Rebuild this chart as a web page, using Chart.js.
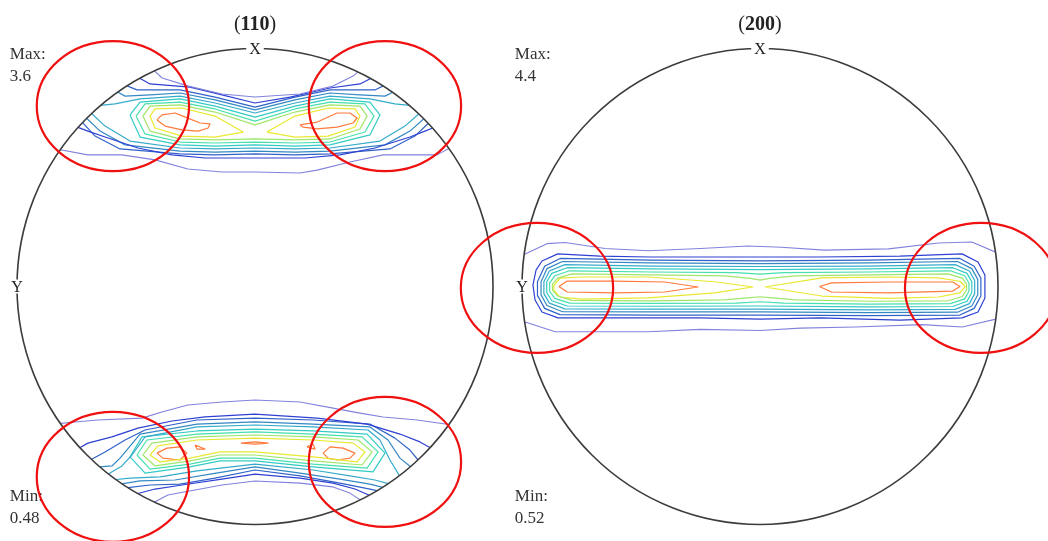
<!DOCTYPE html>
<html>
<head>
<meta charset="utf-8">
<script src="https://cdn.jsdelivr.net/npm/chart.js@4.4.1/dist/chart.umd.min.js"></script>
<style>
html, body { margin: 0; padding: 0; background: #fff; }
#wrap { position: relative; width: 1048px; height: 541px; overflow: hidden; }
#wrap canvas { position: absolute; top: 0; }
#pf110 { left: 0; }
#pf200 { left: 440px; }
</style>
</head>
<body>
<div id="wrap">
  <canvas id="pf110" width="510" height="541"></canvas>
  <canvas id="pf200" width="608" height="541"></canvas>
</div>
<script>
// contour levels, low -> high
const LEVEL_COLORS = ["#8282de", "#2e40d2", "#3062c8", "#3488c4", "#35abcb",
                      "#33cbc4", "#46dfae", "#a0e66a", "#e8e830", "#ff7a3c"];

const titles = ["110", "200"];
const maxVals = ["3.6", "4.4"];
const minVals = ["0.48", "0.52"];

// ---- (110) upper band ----
const a1Up = [[-0.425,0.908],[-0.39,0.876],[-0.28,0.842],[-0.139,0.809],[0,0.796],[0.189,0.809],[0.328,0.842],[0.412,0.884],[0.437,0.905]];
const a1Low = [[-0.835,0.578],[-0.702,0.553],[-0.559,0.553],[-0.42,0.532],[-0.282,0.494],[-0.139,0.481],[0,0.481],[0.189,0.477],[0.261,0.489],[0.399,0.523],[0.538,0.553],[0.765,0.553],[0.826,0.586]];
const a2Up = [[-0.49,0.878],[-0.441,0.851],[-0.273,0.838],[-0.139,0.805],[0,0.771],[0.147,0.796],[0.315,0.834],[0.441,0.851],[0.49,0.876]];
const a2Low = [[-0.752,0.672],[-0.702,0.653],[-0.63,0.628],[-0.492,0.582],[-0.349,0.553],[-0.21,0.54],[0,0.54],[0.21,0.54],[0.357,0.553],[0.504,0.582],[0.651,0.628],[0.714,0.653],[0.752,0.668]];
const a3Up = [[-0.545,0.846],[-0.496,0.826],[-0.315,0.826],[-0.168,0.796],[0,0.754],[0.168,0.796],[0.315,0.826],[0.504,0.826],[0.545,0.846]];
const a3Low = [[-0.73,0.695],[-0.672,0.632],[-0.567,0.578],[-0.315,0.557],[-0.168,0.553],[0,0.557],[0.168,0.553],[0.315,0.557],[0.567,0.578],[0.672,0.632],[0.733,0.69]];
const a4Up = [[-0.583,0.82],[-0.546,0.8],[-0.441,0.805],[-0.315,0.813],[-0.168,0.784],[0,0.742],[0.168,0.784],[0.315,0.813],[0.441,0.805],[0.546,0.8],[0.583,0.818]];
const a4Low = [[-0.713,0.712],[-0.651,0.653],[-0.546,0.595],[-0.315,0.569],[-0.168,0.565],[0,0.569],[0.168,0.565],[0.315,0.569],[0.546,0.595],[0.651,0.653],[0.713,0.708]];
const a5Up = [[-0.66,0.76],[-0.588,0.767],[-0.483,0.788],[-0.315,0.8],[-0.168,0.771],[0,0.729],[0.168,0.771],[0.315,0.8],[0.483,0.788],[0.588,0.767],[0.66,0.76]];
const a5Low = [[-0.69,0.73],[-0.63,0.674],[-0.525,0.611],[-0.315,0.582],[-0.168,0.578],[0,0.582],[0.168,0.578],[0.315,0.582],[0.525,0.611],[0.63,0.674],[0.69,0.727]];
const a6 = [[-0.525,0.721],[-0.483,0.775],[-0.315,0.788],[-0.168,0.758],[0,0.712],[0.168,0.758],[0.315,0.788],[0.483,0.775],[0.525,0.721],[0.483,0.637],[0.315,0.595],[0.168,0.59],[0,0.595],[-0.168,0.59],[-0.315,0.595],[-0.483,0.628]];
const a7 = [[-0.5,0.716],[-0.462,0.767],[-0.315,0.775],[-0.168,0.746],[0,0.695],[0.168,0.746],[0.315,0.775],[0.462,0.767],[0.5,0.716],[0.462,0.649],[0.315,0.607],[0.168,0.603],[0,0.607],[-0.168,0.603],[-0.315,0.607],[-0.462,0.641]];
const a8 = [[-0.471,0.716],[-0.441,0.758],[-0.315,0.763],[-0.168,0.733],[0,0.679],[0.168,0.733],[0.315,0.763],[0.441,0.758],[0.471,0.716],[0.441,0.662],[0.315,0.62],[0.168,0.616],[0,0.62],[-0.168,0.616],[-0.315,0.62],[-0.441,0.653]];
const a9L = [[-0.441,0.716],[-0.42,0.746],[-0.307,0.75],[-0.168,0.716],[-0.05,0.649],[-0.168,0.628],[-0.307,0.632],[-0.42,0.666]];
const a9R = [[0.05,0.649],[0.168,0.716],[0.307,0.75],[0.42,0.746],[0.441,0.716],[0.42,0.67],[0.307,0.632],[0.168,0.628]];
const a10L = [[-0.412,0.7],[-0.391,0.721],[-0.336,0.729],[-0.303,0.716],[-0.231,0.687],[-0.189,0.683],[-0.197,0.666],[-0.239,0.653],[-0.307,0.658],[-0.378,0.674]];
const a10R = [[0.189,0.679],[0.261,0.691],[0.345,0.729],[0.399,0.729],[0.429,0.708],[0.412,0.687],[0.345,0.67],[0.261,0.662],[0.202,0.67]];

// ---- (110) lower band ----
const b1Up = [[-0.826,-0.576],[-0.756,-0.569],[-0.66,-0.561],[-0.475,-0.553],[-0.391,-0.527],[-0.282,-0.498],[-0.139,-0.485],[0,-0.477],[0.189,-0.485],[0.328,-0.511],[0.441,-0.532],[0.538,-0.548],[0.681,-0.561],[0.815,-0.58]];
const b1Low = [[-0.43,-0.91],[-0.366,-0.876],[-0.252,-0.855],[-0.139,-0.834],[0,-0.817],[0.189,-0.826],[0.328,-0.842],[0.399,-0.868],[0.447,-0.9]];
const b2Up = [[-0.74,-0.68],[-0.702,-0.658],[-0.601,-0.632],[-0.492,-0.595],[-0.349,-0.565],[-0.21,-0.548],[0,-0.536],[0.261,-0.553],[0.471,-0.578],[0.609,-0.62],[0.693,-0.653],[0.74,-0.68]];
const b2Low = [[-0.5,-0.872],[-0.42,-0.851],[-0.307,-0.834],[-0.139,-0.809],[0,-0.788],[0.189,-0.805],[0.328,-0.826],[0.42,-0.851],[0.487,-0.88]];
const b3Up = [[-0.69,-0.728],[-0.63,-0.695],[-0.546,-0.645],[-0.462,-0.603],[-0.244,-0.561],[0,-0.553],[0.244,-0.561],[0.483,-0.578],[0.588,-0.637],[0.651,-0.687],[0.686,-0.73]];
const b3Low = [[-0.542,-0.846],[-0.441,-0.834],[-0.315,-0.83],[-0.168,-0.805],[0,-0.771],[0.189,-0.796],[0.357,-0.826],[0.483,-0.851],[0.522,-0.86]];
const b4Up = [[-0.655,-0.758],[-0.601,-0.754],[-0.567,-0.721],[-0.483,-0.62],[-0.244,-0.578],[0,-0.569],[0.244,-0.578],[0.483,-0.59],[0.559,-0.645],[0.609,-0.721],[0.655,-0.758]];
const b4Low = [[-0.567,-0.83],[-0.483,-0.817],[-0.336,-0.813],[-0.189,-0.788],[0,-0.758],[0.189,-0.784],[0.357,-0.809],[0.483,-0.83],[0.545,-0.846]];
const b5Up = [[-0.62,-0.79],[-0.559,-0.754],[-0.517,-0.708],[-0.462,-0.632],[-0.244,-0.59],[0,-0.582],[0.244,-0.59],[0.475,-0.603],[0.525,-0.645],[0.567,-0.729],[0.61,-0.8]];
const b5Low = [[-0.592,-0.812],[-0.525,-0.805],[-0.399,-0.8],[-0.244,-0.775],[0,-0.746],[0.244,-0.771],[0.399,-0.796],[0.504,-0.813],[0.567,-0.83]];
const b6 = [[-0.525,-0.716],[-0.475,-0.632],[-0.244,-0.607],[0,-0.599],[0.244,-0.607],[0.471,-0.62],[0.546,-0.7],[0.496,-0.779],[0.244,-0.758],[0,-0.733],[-0.147,-0.733],[-0.273,-0.758],[-0.462,-0.784]];
const b7 = [[-0.496,-0.708],[-0.454,-0.645],[-0.244,-0.62],[0,-0.611],[0.244,-0.62],[0.45,-0.632],[0.517,-0.695],[0.471,-0.763],[0.244,-0.746],[0,-0.721],[-0.147,-0.721],[-0.273,-0.746],[-0.441,-0.767]];
const b8 = [[-0.471,-0.708],[-0.433,-0.658],[-0.244,-0.632],[0,-0.624],[0.244,-0.632],[0.433,-0.645],[0.492,-0.695],[0.45,-0.75],[0.244,-0.733],[0,-0.708],[-0.147,-0.708],[-0.273,-0.733],[-0.42,-0.754]];
const b9 = [[-0.441,-0.708],[-0.408,-0.67],[-0.244,-0.645],[0,-0.637],[0.244,-0.645],[0.412,-0.658],[0.462,-0.695],[0.429,-0.737],[0.244,-0.716],[0,-0.695],[-0.147,-0.695],[-0.273,-0.721],[-0.399,-0.737]];
const b10L = [[-0.412,-0.7],[-0.37,-0.679],[-0.315,-0.674],[-0.286,-0.7],[-0.315,-0.729],[-0.387,-0.721]];
const b10T1 = [[-0.252,-0.666],[-0.21,-0.683],[-0.244,-0.683]];
const b10C = [[-0.059,-0.658],[0,-0.653],[0.055,-0.658],[0,-0.662]];
const b10T2 = [[0.218,-0.674],[0.244,-0.662],[0.252,-0.683]];
const b10R = [[0.286,-0.7],[0.315,-0.674],[0.37,-0.679],[0.42,-0.7],[0.399,-0.721],[0.345,-0.729],[0.307,-0.721]];

// ---- (200) central band ----
const c1Up = [[-1.0,0.13],[-0.895,0.18],[-0.82,0.185],[-0.65,0.16],[-0.47,0.15],[-0.25,0.16],[-0.05,0.17],[0.09,0.165],[0.27,0.153],[0.54,0.158],[0.75,0.183],[0.89,0.187],[1.0,0.14]];
const c1Low = [[-1.0,-0.145],[-0.86,-0.19],[-0.68,-0.19],[-0.47,-0.19],[-0.25,-0.18],[0,-0.185],[0.17,-0.175],[0.4,-0.17],[0.68,-0.16],[0.85,-0.17],[1.0,-0.135]];
const c2 = [[-0.85,0.137],[-0.672,0.128],[-0.462,0.124],[-0.252,0.124],[0,0.124],[0.252,0.124],[0.588,0.128],[0.849,0.137],[0.916,0.103],[0.945,0.048],[0.945,-0.048],[0.916,-0.107],[0.849,-0.132],[0.588,-0.141],[0.252,-0.132],[0,-0.137],[-0.252,-0.132],[-0.588,-0.132],[-0.849,-0.132],[-0.916,-0.107],[-0.945,-0.057],[-0.954,0.006],[-0.941,0.069],[-0.916,0.107]];
const c3 = [[-0.84,0.118],[-0.46,0.111],[0,0.108],[0.46,0.111],[0.84,0.118],[0.9,0.085],[0.928,0.035],[0.928,-0.04],[0.9,-0.092],[0.84,-0.12],[0.46,-0.122],[0,-0.12],[-0.46,-0.12],[-0.84,-0.118],[-0.905,-0.092],[-0.933,-0.04],[-0.935,0.02],[-0.905,0.085]];
const c4 = [[-0.83,0.105],[-0.46,0.099],[0,0.096],[0.46,0.099],[0.83,0.105],[0.89,0.075],[0.915,0.03],[0.915,-0.035],[0.89,-0.082],[0.83,-0.108],[0.46,-0.11],[0,-0.107],[-0.46,-0.107],[-0.83,-0.106],[-0.895,-0.08],[-0.92,-0.035],[-0.92,0.02],[-0.895,0.075]];
const c5 = [[-0.82,0.092],[-0.46,0.086],[0,0.084],[0.46,0.086],[0.82,0.092],[0.88,0.065],[0.902,0.025],[0.902,-0.03],[0.88,-0.072],[0.82,-0.096],[0.46,-0.098],[0,-0.095],[-0.46,-0.095],[-0.82,-0.094],[-0.885,-0.07],[-0.908,-0.03],[-0.908,0.02],[-0.885,0.065]];
const c6 = [[-0.81,0.079],[-0.46,0.074],[0,0.071],[0.46,0.074],[0.81,0.079],[0.87,0.055],[0.89,0.02],[0.89,-0.025],[0.87,-0.062],[0.81,-0.084],[0.46,-0.086],[0,-0.082],[-0.46,-0.083],[-0.81,-0.082],[-0.875,-0.06],[-0.896,-0.025],[-0.896,0.02],[-0.875,0.055]];
const c7 = [[-0.8,0.066],[-0.46,0.061],[-0.1,0.058],[0,0.052],[0.1,0.058],[0.46,0.061],[0.8,0.066],[0.86,0.045],[0.878,0.015],[0.878,-0.02],[0.86,-0.052],[0.8,-0.072],[0.46,-0.074],[0.1,-0.07],[0,-0.064],[-0.1,-0.07],[-0.46,-0.071],[-0.8,-0.07],[-0.862,-0.05],[-0.884,-0.02],[-0.884,0.015],[-0.862,0.045]];
const c8 = [[-0.79,0.053],[-0.46,0.049],[-0.15,0.045],[-0.04,0.034],[0,0.027],[0.04,0.034],[0.15,0.045],[0.46,0.049],[0.79,0.053],[0.85,0.035],[0.868,0.01],[0.868,-0.015],[0.85,-0.042],[0.79,-0.06],[0.46,-0.062],[0.15,-0.056],[0.04,-0.047],[0,-0.043],[-0.04,-0.047],[-0.15,-0.056],[-0.46,-0.06],[-0.79,-0.058],[-0.85,-0.04],[-0.872,-0.015],[-0.872,0.01],[-0.85,0.035]];
const c9L = [[-0.866,0.005],[-0.84,0.035],[-0.75,0.04],[-0.47,0.04],[-0.19,0.02],[-0.03,-0.002],[-0.19,-0.027],[-0.47,-0.048],[-0.75,-0.053],[-0.84,-0.045],[-0.866,-0.015]];
const c9R = [[0.02,-0.002],[0.26,0.036],[0.54,0.04],[0.75,0.036],[0.84,0.022],[0.862,0],[0.84,-0.027],[0.75,-0.044],[0.54,-0.05],[0.26,-0.04]];
const c10L = [[-0.845,0],[-0.81,0.023],[-0.61,0.023],[-0.4,0.019],[-0.26,-0.002],[-0.4,-0.023],[-0.61,-0.027],[-0.81,-0.023]];
const c10R = [[0.25,0],[0.3,0.015],[0.54,0.019],[0.81,0.019],[0.84,0],[0.81,-0.019],[0.54,-0.027],[0.3,-0.023]];

// red highlight rings (centres, in projection units)
const rings110 = [[-0.597,0.758],[0.546,0.758],[-0.597,-0.80],[0.546,-0.737]];
const rings200 = [[-0.937,-0.006],[0.929,-0.006]];

// [level index, points, closed?]
const lines110 = [
  [0,a1Up,false],[0,a1Low,false],[1,a2Up,false],[1,a2Low,false],[2,a3Up,false],[2,a3Low,false],
  [3,a4Up,false],[3,a4Low,false],[4,a5Up,false],[4,a5Low,false],[5,a6,true],[6,a7,true],[7,a8,true],
  [8,a9L,true],[8,a9R,true],[9,a10L,true],[9,a10R,true],
  [0,b1Up,false],[0,b1Low,false],[1,b2Up,false],[1,b2Low,false],[2,b3Up,false],[2,b3Low,false],
  [3,b4Up,false],[3,b4Low,false],[4,b5Up,false],[4,b5Low,false],[5,b6,true],[6,b7,true],[7,b8,true],
  [8,b9,true],[9,b10L,true],[9,b10T1,true],[9,b10C,true],[9,b10T2,true],[9,b10R,true]
];
const lines200 = [
  [0,c1Up,false],[0,c1Low,false],[1,c2,true],[2,c3,true],[3,c4,true],[4,c5,true],[5,c6,true],
  [6,c7,true],[7,c8,true],[8,c9L,true],[8,c9R,true],[9,c10L,true],[9,c10R,true]
];

const SERIF = '"Liberation Serif", "DejaVu Serif", serif';

const poleFrame = {
  id: "poleFrame",
  beforeDatasetsDraw(chart) {
    const { ctx, scales: { x, y } } = chart;
    const cx = x.getPixelForValue(0), cy = y.getPixelForValue(0);
    const r = x.getPixelForValue(1) - cx;
    ctx.save();
    ctx.beginPath();
    ctx.arc(cx, cy, r, 0, Math.PI * 2);
    ctx.clip();
  },
  afterDatasetsDraw(chart) {
    chart.ctx.restore();
  },
  afterDraw(chart, args, opts) {
    const { ctx, scales: { x, y } } = chart;
    const cx = x.getPixelForValue(0), cy = y.getPixelForValue(0);
    const r = x.getPixelForValue(1) - cx;
    ctx.save();
    ctx.strokeStyle = "#3c3c3c";
    ctx.lineWidth = 1.6;
    ctx.beginPath();
    ctx.arc(cx, cy, r, 0, Math.PI * 2);
    ctx.stroke();

    // axis letters on the circle
    ctx.font = "16px " + SERIF;
    ctx.textAlign = "center";
    ctx.textBaseline = "middle";
    [["X", cx, cy - r], ["Y", cx - r, cy]].forEach(([t, px, py]) => {
      const w = ctx.measureText(t).width + 6;
      ctx.fillStyle = "#fff";
      ctx.fillRect(px - w / 2, py - 7, w, 14);
      ctx.fillStyle = "#222";
      ctx.fillText(t, px, py + 1);
    });

    // title (hkl) with bold digits
    ctx.textAlign = "left";
    ctx.textBaseline = "alphabetic";
    const ty = y.getPixelForValue(1.078);
    const normal = "20px " + SERIF, bold = "bold 20px " + SERIF;
    ctx.font = normal;
    const wp = ctx.measureText("(").width;
    ctx.font = bold;
    const wd = ctx.measureText(opts.title).width;
    let tx = cx - (2 * wp + wd) / 2;
    ctx.fillStyle = "#222";
    ctx.font = normal; ctx.fillText("(", tx, ty); tx += wp;
    ctx.font = bold; ctx.fillText(opts.title, tx, ty); tx += wd;
    ctx.font = normal; ctx.fillText(")", tx, ty);

    // max / min notes
    ctx.font = "17px " + SERIF;
    ctx.fillStyle = "#333";
    const lx = x.getPixelForValue(-1.03);
    ctx.fillText("Max:", lx, y.getPixelForValue(0.956));
    ctx.fillText(opts.max, lx, y.getPixelForValue(0.863));
    ctx.fillText("Min:", lx, y.getPixelForValue(-0.901));
    ctx.fillText(opts.min, lx, y.getPixelForValue(-0.994));

    // red highlight rings
    ctx.strokeStyle = "#f01010";
    ctx.lineWidth = 2.2;
    opts.rings.forEach(([u, v]) => {
      ctx.beginPath();
      ctx.ellipse(x.getPixelForValue(u), y.getPixelForValue(v), 0.32 * r, 0.273 * r, 0, 0, Math.PI * 2);
      ctx.stroke();
    });
    ctx.restore();
  }
};

function makeSets(lines) {
  return lines.map(([lvl, pts, closed]) => ({
    data: (closed ? pts.concat([pts[0]]) : pts).map((p) => ({ x: p[0], y: p[1] })),
    borderColor: LEVEL_COLORS[lvl],
    borderWidth: lvl === 0 ? 1.1 : 1.2,
    borderJoinStyle: "round",
    showLine: true,
    pointRadius: 0,
    pointHoverRadius: 0,
    tension: 0,
    fill: false,
  }));
}

function drawPole(id, lines, xMin, xMax, idx, rings) {
  new Chart(document.getElementById(id), {
    type: "scatter",
    data: { datasets: makeSets(lines) },
    options: {
      responsive: false,
      animation: false,
      events: [],
      layout: { padding: 0 },
      plugins: {
        legend: { display: false },
        tooltip: { enabled: false },
        poleFrame: { title: titles[idx], max: maxVals[idx], min: minVals[idx], rings: rings },
      },
      scales: {
        x: { type: "linear", display: false, min: xMin, max: xMax },
        y: { type: "linear", display: false, min: -1.0693, max: 1.2038 },
      },
    },
    plugins: [poleFrame],
  });
}

drawPole("pf110", lines110, -1.0714, 1.0714, 0, rings110);
drawPole("pf200", lines200, -1.3445, 1.2101, 1, rings200);
</script>
</body>
</html>
